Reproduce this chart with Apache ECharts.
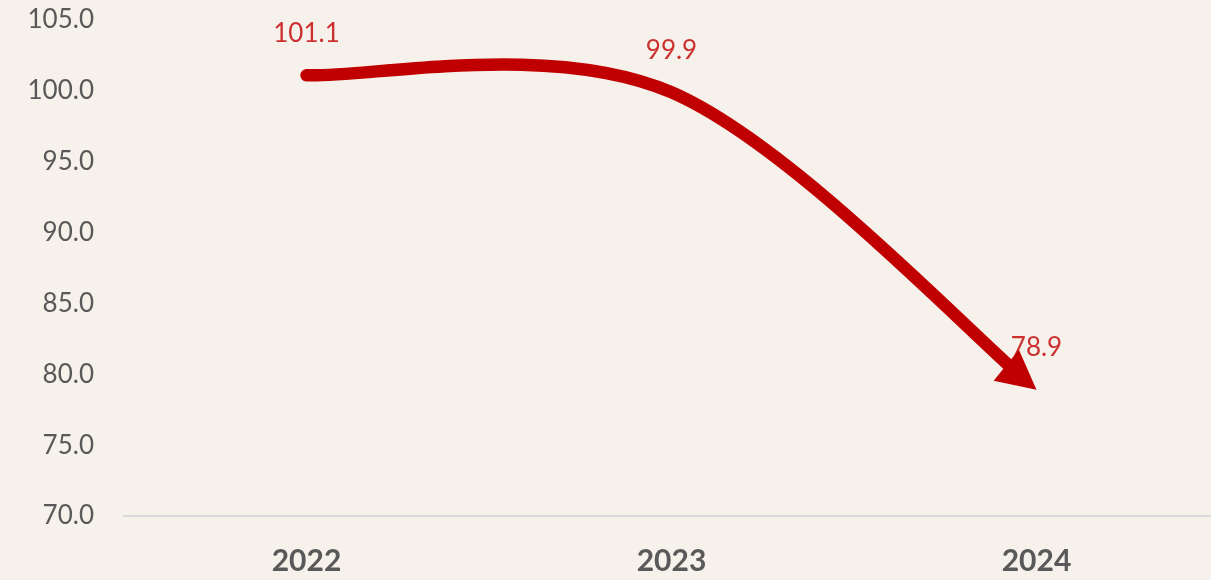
<!DOCTYPE html>
<html>
<head>
<meta charset="utf-8">
<script src="https://cdn.jsdelivr.net/npm/echarts@6/dist/echarts.min.js"></script>
<style>
html,body{margin:0;padding:0;background:#F6F1EB;}
#main{width:1211px;height:580px;}
</style>
</head>
<body>
<div id="main"></div>
<script>
const categories = ['2022', '2023', '2024'];
const values = [101.1, 99.9, 78.9];
const yTicks = { min: 70, max: 105, interval: 5 };

const RED = '#C00000';
const GREY = '#595959';
const FONT = 'Lato, "Open Sans", sans-serif';

// Excel-style smoothed curve with a triangle arrowhead, built from data via api.coord
function renderCurve(params, api) {
  const P = values.map((v, i) => api.coord([i, v]));
  const n = P.length;
  const get = i => P[Math.max(0, Math.min(n - 1, i))];
  const segs = [];
  for (let i = 0; i < n - 1; i++) {
    const a = P[i], b = P[i + 1];
    const pm = get(i - 1), pn = get(i + 2);
    const c1 = [a[0] + (b[0] - pm[0]) / 6, a[1] + (b[1] - pm[1]) / 6];
    const c2 = [b[0] - (pn[0] - a[0]) / 6, b[1] - (pn[1] - a[1]) / 6];
    segs.push([a, c1, c2, b]);
  }
  const arrowLen = 39, arrowW = 40;
  const last = segs[segs.length - 1];
  const tip = last[3];
  let dx = tip[0] - last[2][0], dy = tip[1] - last[2][1];
  const dl = Math.hypot(dx, dy); dx /= dl; dy /= dl;
  const base = [tip[0] - dx * arrowLen, tip[1] - dy * arrowLen];
  const nx = -dy, ny = dx;
  const head = [
    tip,
    [base[0] + nx * arrowW / 2, base[1] + ny * arrowW / 2],
    [base[0] - nx * arrowW / 2, base[1] - ny * arrowW / 2]
  ];
  const bez = (s, t) => {
    const lerp = (p, q) => [p[0] + (q[0] - p[0]) * t, p[1] + (q[1] - p[1]) * t];
    const p01 = lerp(s[0], s[1]), p12 = lerp(s[1], s[2]), p23 = lerp(s[2], s[3]);
    const p012 = lerp(p01, p12), p123 = lerp(p12, p23);
    const p = lerp(p012, p123);
    return { p, left: [s[0], p01, p012, p] };
  };
  const want = arrowLen * 0.6;
  let lo = 0, hi = 1;
  for (let k = 0; k < 40; k++) {
    const mid = (lo + hi) / 2;
    const r = bez(last, mid);
    if (Math.hypot(r.p[0] - tip[0], r.p[1] - tip[1]) > want) lo = mid; else hi = mid;
  }
  segs[segs.length - 1] = bez(last, lo).left;
  let d = 'M' + segs[0][0][0] + ',' + segs[0][0][1];
  segs.forEach(s => {
    d += ' C' + s[1][0] + ',' + s[1][1] + ' ' + s[2][0] + ',' + s[2][1] + ' ' + s[3][0] + ',' + s[3][1];
  });
  return {
    type: 'group',
    children: [
      { type: 'path', shape: { pathData: d }, style: { fill: null, stroke: RED, lineWidth: 12.5, lineCap: 'round', lineJoin: 'round' } },
      { type: 'polygon', shape: { points: head }, style: { fill: RED } }
    ]
  };
}

const chart = echarts.init(document.getElementById('main'), null, { renderer: 'canvas' });
chart.setOption({
  backgroundColor: '#F6F1EB',
  animation: false,
  grid: { left: 124, width: 1095, top: 20, bottom: 64, containLabel: false, outerBoundsMode: 'none' },
  xAxis: {
    type: 'category',
    data: categories,
    boundaryGap: true,
    axisLine: { show: true, lineStyle: { color: '#D9D9D9', width: 2 } },
    axisTick: { show: false },
    axisLabel: { color: GREY, fontFamily: FONT, fontWeight: 'bold', fontSize: 30, margin: 30 },
    splitLine: { show: false }
  },
  yAxis: {
    type: 'value',
    min: yTicks.min,
    max: yTicks.max,
    interval: yTicks.interval,
    axisLine: { show: false },
    axisTick: { show: false },
    splitLine: { show: false },
    axisLabel: {
      color: GREY, fontFamily: FONT, fontSize: 26, margin: 30,
      formatter: v => v.toFixed(1)
    }
  },
  series: [
    {
      type: 'custom',
      data: [[0, values[0]]],
      renderItem: renderCurve,
      clip: false,
      silent: true,
      z: 2
    },
    {
      type: 'scatter',
      data: values,
      symbol: 'circle',
      symbolSize: 1,
      itemStyle: { color: 'rgba(0,0,0,0)' },
      label: {
        show: true,
        position: 'inside',
        offset: [0, -42],
        color: RED,
        fontFamily: FONT,
        fontSize: 26,
        formatter: p => p.value.toFixed(1)
      },
      z: 3
    }
  ]
});
</script>
</body>
</html>
